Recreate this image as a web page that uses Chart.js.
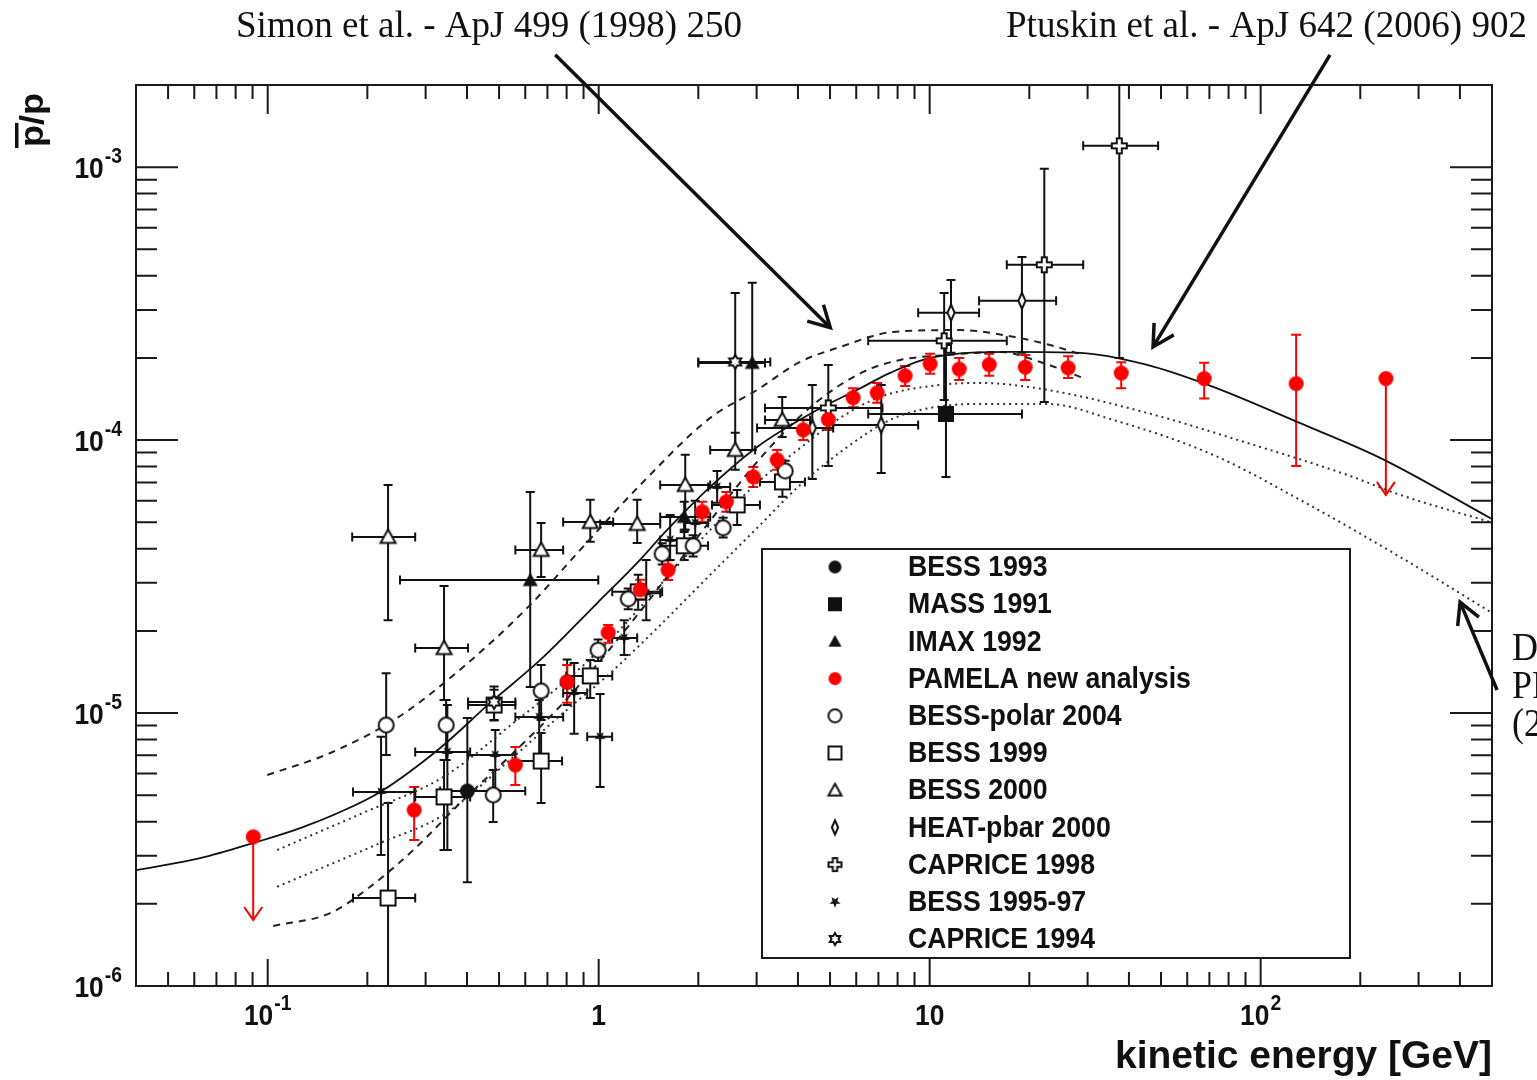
<!DOCTYPE html>
<html>
<head>
<meta charset="utf-8">
<title>pbar/p ratio</title>
<script src="https://cdn.jsdelivr.net/npm/chart.js@4.4.1/dist/chart.umd.min.js"></script>
<style>
  html, body { margin: 0; padding: 0; background: #fff; }
  #wrap { width: 1537px; height: 1080px; }
</style>
</head>
<body>
<div id="wrap"><canvas id="chart" width="1537" height="1080"></canvas></div>
<script>
// ---------- axis ranges and tick labels ----------
const xAxisMin = 0.04, xAxisMax = 500;
const yAxisMin = 1e-6, yAxisMax = 2e-3;
const xTickValues = [0.1, 1, 10, 100];
const xTickLabels = [['10', '-1'], ['1', ''], ['10', ''], ['10', '2']];
const yTickValues = [1e-6, 1e-5, 1e-4, 1e-3];
const yTickLabels = [['10', '-6'], ['10', '-5'], ['10', '-4'], ['10', '-3']];

// ---------- model curves ----------
const ptuskinE = [0.0401, 0.0625, 0.0904, 0.1254, 0.1656, 0.2187, 0.332, 0.470, 0.666, 0.990, 1.307, 1.610, 2.172, 3.012, 4.573, 6.039, 7.598, 10.03, 17.88, 28.5, 45.41, 71.87, 128.9, 229.6, 500];
const ptuskinR = [2.66e-6, 2.94e-6, 3.34e-6, 3.79e-6, 4.34e-6, 5.14e-6, 7.45e-6, 1.089e-5, 1.565e-5, 2.53e-5, 3.55e-5, 4.69e-5, 6.74e-5, 9.44e-5, 1.29e-4, 1.528e-4, 1.763e-4, 2.0e-4, 2.105e-4, 2.087e-4, 1.886e-4, 1.567e-4, 1.166e-4, 8.61e-5, 5.14e-5];

const simonHighE = [0.0997, 0.1545, 0.2461, 0.3897, 0.6209, 0.8793, 1.335, 2.172, 3.012, 4.062, 5.366, 7.757, 12.37, 17.88, 23.12, 29.09];
const simonHighR = [5.93e-6, 7.14e-6, 9.60e-6, 1.475e-5, 2.49e-5, 3.96e-5, 6.85e-5, 1.206e-4, 1.528e-4, 1.934e-4, 2.195e-4, 2.49e-4, 2.53e-4, 2.39e-4, 2.23e-4, 2.05e-4];
const simonLowE = [0.1039, 0.1545, 0.204, 0.2753, 0.3897, 0.5516, 0.7813, 1.106, 1.566, 2.218, 3.141, 4.446, 6.297, 8.145, 11.29, 16.33, 21.57, 29.09];
const simonLowR = [1.66e-6, 1.85e-6, 2.31e-6, 3.15e-6, 4.80e-6, 7.14e-6, 1.089e-5, 1.776e-5, 3.02e-5, 5.23e-5, 8.83e-5, 1.346e-4, 1.778e-4, 1.967e-4, 2.05e-4, 2.105e-4, 1.934e-4, 1.69e-4];

const donatoHighE = [0.1068, 0.1943, 0.339, 0.5671, 0.7813, 1.083, 1.534, 2.172, 3.012, 4.062, 5.366, 7.087, 10.76, 14.21, 22.65, 45.41, 91.0, 182.5, 264, 494];
const donatoHighR = [3.15e-6, 4.31e-6, 5.83e-6, 9.43e-6, 1.289e-5, 1.853e-5, 2.95e-5, 4.69e-5, 6.97e-5, 9.36e-5, 1.206e-4, 1.44e-4, 1.593e-4, 1.62e-4, 1.528e-4, 1.258e-4, 9.77e-5, 7.46e-5, 6.30e-5, 5.01e-5];
const donatoLowE = [0.1068, 0.2187, 0.339, 0.5516, 0.7813, 1.083, 1.534, 2.172, 3.075, 4.062, 5.479, 7.598, 10.03, 14.21, 22.65, 35.85, 71.87, 131.6, 264, 494];
const donatoLowR = [2.31e-6, 3.34e-6, 4.23e-6, 6.90e-6, 1.001e-5, 1.40e-5, 2.10e-5, 3.21e-5, 4.89e-5, 6.85e-5, 9.20e-5, 1.186e-4, 1.312e-4, 1.357e-4, 1.357e-4, 1.186e-4, 8.83e-5, 6.04e-5, 3.73e-5, 2.35e-5];

// ---------- measurements ----------
const bess93E = [0.401, 0.803];
const bess93R = [5.18e-6, 1.30e-5];
const bess93Lo = [2.40e-6, 1.07e-5];
const bess93Hi = [9.6e-6, 1.57e-5];
const bess93ELo = [0.332, null];
const bess93EHi = [0.600, null];

const massE = [11.2];
const massR = [1.247e-4];
const massLo = [7.33e-5];
const massHi = [2.23e-4];
const massELo = [6.52];
const massEHi = [19.0];

const imaxE = [0.621, 1.813, 2.91];
const imaxR = [3.07e-5, 5.23e-5, 1.918e-4];
const imaxLo = [1.246e-5, 4.61e-5, 9.2e-5];
const imaxHi = [6.46e-5, 5.94e-5, 3.77e-4];
const imaxELo = [0.251, 1.534, 2.0];
const imaxEHi = [0.997, 2.172, 3.18];

const pamelaE = [0.277, 0.560, 0.803, 1.068, 1.335, 1.62, 2.055, 2.43, 2.93, 3.46, 4.15, 4.94, 5.87, 6.94, 8.43, 10.03, 12.28, 15.13, 19.44, 26.2, 37.9, 67.5, 128];
const pamelaR = [4.41e-6, 6.45e-6, 1.30e-5, 1.97e-5, 2.83e-5, 3.34e-5, 5.46e-5, 5.94e-5, 7.33e-5, 8.46e-5, 1.09e-4, 1.19e-4, 1.43e-4, 1.49e-4, 1.72e-4, 1.90e-4, 1.82e-4, 1.89e-4, 1.85e-4, 1.84e-4, 1.76e-4, 1.68e-4, 1.61e-4];
const pamelaLo = [3.43e-6, 5.45e-6, 1.09e-5, 1.81e-5, 2.60e-5, 3.07e-5, 5.02e-5, 5.46e-5, 6.74e-5, 7.78e-5, 1.00e-4, 1.09e-4, 1.32e-4, 1.37e-4, 1.58e-4, 1.75e-4, 1.66e-4, 1.72e-4, 1.66e-4, 1.69e-4, 1.55e-4, 1.42e-4, 8.04e-5];
const pamelaHi = [5.36e-6, 7.51e-6, 1.50e-5, 2.10e-5, 3.08e-5, 3.63e-5, 5.94e-5, 6.46e-5, 7.97e-5, 9.20e-5, 1.19e-4, 1.29e-4, 1.55e-4, 1.62e-4, 1.87e-4, 2.07e-4, 2.00e-4, 2.07e-4, 2.05e-4, 2.03e-4, 1.93e-4, 1.92e-4, 2.43e-4];
const pamelaLimitE = [0.0904, 239];
const pamelaLimitR = [3.52e-6, 1.68e-4];
const pamelaLimitTo = [1.745e-6, 6.3e-5];

const polarE = [0.228, 0.346, 0.480, 0.670, 0.996, 1.228, 1.555, 1.929, 2.377, 3.66];
const polarR = [9.04e-6, 9.04e-6, 5.01e-6, 1.205e-5, 1.70e-5, 2.62e-5, 3.83e-5, 4.10e-5, 4.77e-5, 7.71e-5];
const polarLo = [7.02e-6, 6.73e-6, 3.99e-6, 9.43e-6, 1.55e-5, 2.40e-5, 3.50e-5, 3.75e-5, 4.40e-5, 7.1e-5];
const polarHi = [1.40e-5, 1.117e-5, 6.19e-6, 1.50e-5, 1.86e-5, 2.86e-5, 4.19e-5, 4.48e-5, 5.2e-5, 8.4e-5];

const bess99E = [0.231, 0.341, 0.483, 0.670, 0.943, 1.316, 1.813, 2.62, 3.59];
const bess99R = [2.10e-6, 4.93e-6, 1.07e-5, 6.67e-6, 1.368e-5, 2.78e-5, 4.10e-5, 5.79e-5, 7.03e-5];
const bess99Lo = [5e-7, 3.15e-6, 9.43e-6, 4.68e-6, 1.136e-5, 2.39e-5, 3.64e-5, 4.89e-5, 6.2e-5];
const bess99Hi = [4.68e-6, 6.73e-6, 1.216e-5, 8.46e-6, 1.565e-5, 3.21e-5, 4.69e-5, 6.57e-5, 7.9e-5];
const bess99ELo = [0.181, 0.279, 0.403, 0.560, 0.798, 1.099, 1.534, 2.2, 3.07];
const bess99EHi = [0.279, 0.409, 0.560, 0.775, 1.099, 1.555, 2.14, 3.07, 4.2];

const bess00E = [0.231, 0.341, 0.670, 0.943, 1.307, 1.826, 2.585, 3.585];
const bess00R = [4.42e-5, 1.73e-5, 3.96e-5, 5.01e-5, 4.93e-5, 6.85e-5, 9.2e-5, 1.186e-4];
const bess00Lo = [2.19e-5, 1.117e-5, 3.15e-5, 4.24e-5, 4.20e-5, 4.69e-5, 7.78e-5, 1.027e-4];
const bess00Hi = [6.85e-5, 2.92e-5, 4.97e-5, 6.04e-5, 6.04e-5, 8.83e-5, 1.063e-4, 1.44e-4];
const bess00ELo = [0.180, 0.279, 0.560, 0.781, 1.01, 1.534, 2.172, 3.18];
const bess00EHi = [0.279, 0.403, 0.781, 1.106, 1.534, 2.172, 2.97, 4.35];

const heatE = [4.42, 7.14, 11.6, 19.0];
const heatR = [1.108e-4, 1.137e-4, 2.93e-4, 3.24e-4];
const heatLo = [7.21e-5, 7.58e-5, 2.09e-4, 2.09e-4];
const heatHi = [1.593e-4, 1.593e-4, 3.86e-4, 4.69e-4];
const heatELo = [3.01, 5.11, 9.23, 14.1];
const heatEHi = [5.11, 9.23, 14.1, 24.1];

const cap98E = [4.94, 11.06, 22.2, 37.4];
const cap98R = [1.312e-4, 2.31e-4, 4.39e-4, 1.197e-3];
const cap98Lo = [8.04e-5, 1.404e-4, 1.38e-4, 2.0e-4];
const cap98Hi = [1.886e-4, 3.46e-4, 9.86e-4, 3.0e-3];
const cap98ELo = [3.18, 6.52, 17.1, 29.1];
const cap98EHi = [7.2, 17.1, 29.1, 49.0];

const bess95E = [0.220, 0.349, 0.487, 0.661, 0.843, 1.010, 1.194, 1.392, 1.644, 1.957, 2.28];
const bess95R = [5.14e-6, 7.20e-6, 7.02e-6, 9.67e-6, 1.185e-5, 8.18e-6, 1.884e-5, 2.75e-5, 4.31e-5, 4.97e-5, 6.74e-5];
const bess95Lo = [3.02e-6, 3.15e-6, 5.23e-6, 6.73e-6, 8.39e-6, 5.36e-6, 1.633e-5, 2.19e-5, 3.64e-5, 4.2e-5, 5.9e-5];
const bess95Hi = [8.18e-6, 1.07e-5, 8.67e-6, 1.117e-5, 1.526e-5, 1.175e-5, 2.19e-5, 3.64e-5, 5.32e-5, 6.0e-5, 7.7e-5];
const bess95ELo = [0.181, 0.279, 0.403, 0.560, 0.781, 0.923, 1.098, 1.307, 1.534, 1.813, 2.142];
const bess95EHi = [0.279, 0.409, 0.560, 0.781, 0.923, 1.098, 1.307, 1.534, 1.813, 2.142, 2.496];

const cap94E = [0.483, 2.585];
const cap94R = [1.098e-5, 1.934e-4];
const cap94Lo = [9.4e-6, 9.2e-5];
const cap94Hi = [1.25e-5, 3.46e-4];
const cap94ELo = [0.403, 2.0];
const cap94EHi = [0.560, 3.3];

// annotation arrows (data coordinates: tail -> tip)
const arrowTails = [[0.739, 2.58e-3], [162, 2.58e-3], [518, 1.215e-5]];
const arrowTips = [[5.01, 2.58e-4], [47.3, 2.195e-4], [400.5, 2.55e-5]];

// ---------- helpers ----------
const sansFont = '"Liberation Sans", Arial, Helvetica, sans-serif';
const serifFont = '"Liberation Serif", "Times New Roman", serif';
const INK = '#111';
const RED = '#ff0000';

function makeMarker(kind, s, color, open) {
  const pad = 3;
  const w = Math.ceil(s + 2 * pad);
  const c = document.createElement('canvas');
  c.width = w; c.height = w;
  const g = c.getContext('2d');
  g.translate(w / 2, w / 2);
  const h = open ? s / 2 - 1 : s / 2;
  g.lineWidth = 2;
  g.strokeStyle = color;
  g.fillStyle = color;
  g.beginPath();
  if (kind === 'circle') {
    g.arc(0, 0, h, 0, 2 * Math.PI);
  } else if (kind === 'square') {
    g.rect(-h, -h, 2 * h, 2 * h);
  } else if (kind === 'triangle') {
    g.moveTo(0, -h); g.lineTo(h, h * 0.8); g.lineTo(-h, h * 0.8); g.closePath();
  } else if (kind === 'diamond') {
    g.moveTo(0, -h); g.lineTo(h * 0.45, 0); g.lineTo(0, h); g.lineTo(-h * 0.45, 0); g.closePath();
  } else if (kind === 'cross') {
    const a = h * 0.34;
    g.moveTo(-a, -h); g.lineTo(a, -h); g.lineTo(a, -a); g.lineTo(h, -a); g.lineTo(h, a);
    g.lineTo(a, a); g.lineTo(a, h); g.lineTo(-a, h); g.lineTo(-a, a); g.lineTo(-h, a);
    g.lineTo(-h, -a); g.lineTo(-a, -a); g.closePath();
  } else if (kind === 'star5') {
    for (let i = 0; i < 10; i++) {
      const r = i % 2 ? h * 0.42 : h;
      const a = Math.PI / 2 + i * Math.PI / 5;
      if (i === 0) g.moveTo(r * Math.cos(a), r * Math.sin(a)); else g.lineTo(r * Math.cos(a), r * Math.sin(a));
    }
    g.closePath();
  } else if (kind === 'star6') {
    for (let i = 0; i < 12; i++) {
      const r = i % 2 ? h * 0.58 : h;
      const a = -Math.PI / 2 + i * Math.PI / 6;
      if (i === 0) g.moveTo(r * Math.cos(a), r * Math.sin(a)); else g.lineTo(r * Math.cos(a), r * Math.sin(a));
    }
    g.closePath();
  }
  if (open) { g.fillStyle = '#fff'; g.fill(); g.stroke(); } else { g.fill(); }
  return c;
}

function points(E, R, lo, hi, eLo, eHi) {
  return E.map((e, i) => ({
    x: e, y: R[i],
    yMin: lo ? lo[i] : null, yMax: hi ? hi[i] : null,
    xMin: eLo && eLo[i] != null ? eLo[i] : null,
    xMax: eHi && eHi[i] != null ? eHi[i] : null
  }));
}

function curve(E, R) {
  return E.map((e, i) => ({ x: e, y: R[i] }));
}

function logTicks(min, max) {
  const out = [];
  for (let n = Math.floor(Math.log10(min)); n <= Math.ceil(Math.log10(max)); n++) {
    for (let k = 1; k <= 9; k++) {
      const v = k * Math.pow(10, n);
      if (v >= min * 0.999 && v <= max * 1.001) out.push({ v, major: k === 1 });
    }
  }
  return out;
}

function squeezeText(ctx, text, x, y, size, sx, align, family, weight) {
  ctx.save();
  ctx.font = `${weight} ${size}px ${family}`;
  const w = ctx.measureText(text).width * sx;
  let left = x;
  if (align === 'center') left = x - w / 2;
  else if (align === 'right') left = x - w;
  ctx.translate(left, y);
  ctx.scale(sx, 1);
  ctx.textAlign = 'left';
  ctx.fillText(text, 0, 0);
  ctx.restore();
  return w;
}

function fitText(ctx, text, x, y, size, width, align, family, weight) {
  ctx.font = `${weight} ${size}px ${family}`;
  const natural = ctx.measureText(text).width;
  return squeezeText(ctx, text, x, y, size, width / natural, align, family, weight);
}

function powerLabel(ctx, base, exp, x, y, align) {
  const sx = 0.88;
  ctx.font = `bold 30px ${sansFont}`;
  const wb = ctx.measureText(base).width * sx;
  ctx.font = `bold 22px ${sansFont}`;
  const we = exp ? ctx.measureText(exp).width * sx + 1 : 0;
  const total = wb + we;
  const left = align === 'right' ? x - total : x - total / 2;
  ctx.textBaseline = 'middle';
  squeezeText(ctx, base, left, y, 30, sx, 'left', sansFont, 'bold');
  if (exp) squeezeText(ctx, exp, left + wb + 1, y - 13, 22, sx, 'left', sansFont, 'bold');
}

function drawArrow(ctx, x1, y1, x2, y2) {
  const ang = Math.atan2(y2 - y1, x2 - x1);
  const L = 24, spread = 0.5;
  ctx.beginPath();
  ctx.moveTo(x1, y1); ctx.lineTo(x2, y2);
  ctx.moveTo(x2 - L * Math.cos(ang - spread), y2 - L * Math.sin(ang - spread));
  ctx.lineTo(x2, y2);
  ctx.lineTo(x2 - L * Math.cos(ang + spread), y2 - L * Math.sin(ang + spread));
  ctx.stroke();
}

// ---------- datasets ----------
const modelLine = (label, E, R, dash, color, width) => ({
  label, data: curve(E, R), showLine: true, pointRadius: 0, borderColor: color,
  borderWidth: width, borderDash: dash, fill: false, cubicInterpolationMode: 'monotone',
  order: 50, model: true
});

const series = (label, data, marker, legendMarker, order, errColor) => ({
  label, data, pointStyle: marker, pointRadius: 5, showLine: false,
  legendMarker, errColor: errColor || INK, order
});

const pamelaData = points(pamelaE, pamelaR, pamelaLo, pamelaHi)
  .concat(pamelaLimitE.map((e, i) => ({ x: e, y: pamelaLimitR[i], limit: pamelaLimitTo[i] })));

const datasets = [
  series('BESS 1993', points(bess93E, bess93R, bess93Lo, bess93Hi, bess93ELo, bess93EHi),
    makeMarker('circle', 15, INK, false), makeMarker('circle', 13, INK, false), 6),
  series('MASS 1991', points(massE, massR, massLo, massHi, massELo, massEHi),
    makeMarker('square', 16, INK, false), makeMarker('square', 14, INK, false), 5),
  series('IMAX 1992', points(imaxE, imaxR, imaxLo, imaxHi, imaxELo, imaxEHi),
    makeMarker('triangle', 15, INK, false), makeMarker('triangle', 13, INK, false), 5),
  series('PAMELA new analysis', pamelaData,
    makeMarker('circle', 15, RED, false), makeMarker('circle', 13, RED, false), 0, RED),
  series('BESS-polar 2004', points(polarE, polarR, polarLo, polarHi),
    makeMarker('circle', 17, INK, true), makeMarker('circle', 15, INK, true), 8),
  series('BESS 1999', points(bess99E, bess99R, bess99Lo, bess99Hi, bess99ELo, bess99EHi),
    makeMarker('square', 17, INK, true), makeMarker('square', 15, INK, true), 9),
  series('BESS 2000', points(bess00E, bess00R, bess00Lo, bess00Hi, bess00ELo, bess00EHi),
    makeMarker('triangle', 17, INK, true), makeMarker('triangle', 15, INK, true), 9),
  series('HEAT-pbar 2000', points(heatE, heatR, heatLo, heatHi, heatELo, heatEHi),
    makeMarker('diamond', 18, INK, true), makeMarker('diamond', 16, INK, true), 7),
  series('CAPRICE 1998', points(cap98E, cap98R, cap98Lo, cap98Hi, cap98ELo, cap98EHi),
    makeMarker('cross', 17, INK, true), makeMarker('cross', 15, INK, true), 7),
  series('BESS 1995-97', points(bess95E, bess95R, bess95Lo, bess95Hi, bess95ELo, bess95EHi),
    makeMarker('star5', 12, INK, false), makeMarker('star5', 12, INK, false), 4),
  series('CAPRICE 1994', points(cap94E, cap94R, cap94Lo, cap94Hi, cap94ELo, cap94EHi),
    makeMarker('star6', 16, INK, true), makeMarker('star6', 14, INK, true), 7),
  modelLine('Ptuskin et al. 2006', ptuskinE, ptuskinR, [], INK, 1.8),
  modelLine('Simon et al. 1998 (max)', simonHighE, simonHighR, [7, 6], '#222', 2),
  modelLine('Simon et al. 1998 (min)', simonLowE, simonLowR, [7, 6], '#222', 2),
  modelLine('Donato et al. (max)', donatoHighE, donatoHighR, [2, 4], '#333', 2),
  modelLine('Donato et al. (min)', donatoLowE, donatoLowR, [2, 4], '#333', 2)
];

// ---------- ROOT-style frame, error bars, legend, labels ----------
const rootStyle = {
  id: 'rootStyle',
  beforeDraw(chart) {
    const ctx = chart.ctx;
    ctx.save();
    ctx.fillStyle = '#fff';
    ctx.fillRect(0, 0, chart.width, chart.height);
    ctx.restore();
  },
  beforeDatasetsDraw(chart) {
    const { ctx, chartArea: a, scales: { x, y } } = chart;
    ctx.save();
    ctx.beginPath();
    ctx.rect(a.left, a.top, a.right - a.left, a.bottom - a.top);
    ctx.clip();
    chart.data.datasets.forEach(ds => {
      if (ds.model) return;
      ctx.strokeStyle = ds.errColor;
      ctx.lineWidth = 2;
      const cap = ds.errColor === RED ? 5 : 4.5;
      ds.data.forEach(p => {
        const px = x.getPixelForValue(p.x), py = y.getPixelForValue(p.y);
        ctx.beginPath();
        if (p.limit) {
          const pe = y.getPixelForValue(p.limit);
          ctx.moveTo(px, py); ctx.lineTo(px, pe);
          ctx.moveTo(px - 9, pe - 13); ctx.lineTo(px, pe); ctx.lineTo(px + 9, pe - 13);
        }
        if (p.yMin != null) {
          const y1 = y.getPixelForValue(p.yMin), y2 = y.getPixelForValue(p.yMax);
          ctx.moveTo(px, y1); ctx.lineTo(px, y2);
          ctx.moveTo(px - cap, y1); ctx.lineTo(px + cap, y1);
          ctx.moveTo(px - cap, y2); ctx.lineTo(px + cap, y2);
        }
        if (p.xMin != null) {
          const x1 = x.getPixelForValue(p.xMin), x2 = x.getPixelForValue(p.xMax);
          ctx.moveTo(x1, py); ctx.lineTo(x2, py);
          ctx.moveTo(x1, py - cap); ctx.lineTo(x1, py + cap);
          ctx.moveTo(x2, py - cap); ctx.lineTo(x2, py + cap);
        }
        ctx.stroke();
      });
    });
    ctx.restore();
  },
  afterDatasetsDraw(chart) {
    const { ctx, chartArea: a, scales: { x, y } } = chart;
    ctx.save();
    ctx.fillStyle = INK;
    ctx.strokeStyle = '#1a1a1a';

    // frame and ticks
    ctx.lineWidth = 2;
    ctx.strokeRect(a.left, a.top, a.right - a.left, a.bottom - a.top);
    ctx.beginPath();
    logTicks(xAxisMin, xAxisMax).forEach(t => {
      const px = x.getPixelForValue(t.v);
      ctx.moveTo(px, a.bottom); ctx.lineTo(px, a.bottom - (t.major ? 27 : 14));
      ctx.moveTo(px, a.top); ctx.lineTo(px, a.top + (t.major ? 29 : 14));
    });
    logTicks(yAxisMin, yAxisMax).forEach(t => {
      const py = y.getPixelForValue(t.v);
      const l = t.major ? 42 : 21;
      ctx.moveTo(a.left, py); ctx.lineTo(a.left + l, py);
      ctx.moveTo(a.right, py); ctx.lineTo(a.right - l, py);
    });
    ctx.stroke();

    // tick labels
    xTickValues.forEach((v, i) => powerLabel(ctx, xTickLabels[i][0], xTickLabels[i][1], x.getPixelForValue(v), a.bottom + 31, 'center'));
    yTickValues.forEach((v, i) => powerLabel(ctx, yTickLabels[i][0], yTickLabels[i][1], a.left - 14, y.getPixelForValue(v) + 3, 'right'));

    // axis titles
    ctx.textBaseline = 'alphabetic';
    fitText(ctx, 'kinetic energy [GeV]', a.right, a.bottom + 82, 38, 377, 'right', sansFont, 'bold');
    ctx.save();
    ctx.translate(43, 147);
    ctx.rotate(-Math.PI / 2);
    ctx.font = `bold 34px ${sansFont}`;
    const s = 54 / ctx.measureText('p/p').width;
    ctx.scale(s, 1);
    ctx.fillText('p/p', 0, 0);
    const pw = ctx.measureText('p').width;
    ctx.fillRect(-1, -28, pw + 3, 3.5);
    ctx.restore();

    // legend
    const lx = 762, ly = 549, lw = 588, lh = 409;
    ctx.fillStyle = '#fff';
    ctx.fillRect(lx, ly, lw, lh);
    ctx.lineWidth = 2;
    ctx.strokeRect(lx, ly, lw, lh);
    ctx.fillStyle = INK;
    ctx.textBaseline = 'middle';
    const rows = chart.data.datasets.filter(ds => ds.legendMarker);
    rows.forEach((ds, i) => {
      const ry = ly + 18 + i * 37.2;
      const m = ds.legendMarker;
      ctx.drawImage(m, lx + 73 - m.width / 2, ry - m.height / 2);
      squeezeText(ctx, ds.label, lx + 146, ry + 1, 30, 0.89, 'left', sansFont, 'bold');
    });

    // annotations
    ctx.textBaseline = 'alphabetic';
    fitText(ctx, 'Simon et al. - ApJ 499 (1998) 250', 236, 37, 38, 506, 'left', serifFont, 'normal');
    fitText(ctx, 'Ptuskin et al. - ApJ 642 (2006) 902', 1006, 37, 38, 521, 'left', serifFont, 'normal');
    ['Donato et al. -', 'PRL 102 071301', '(2009)'].forEach((t, i) => {
      squeezeText(ctx, t, 1512, 660 + i * 38, 40, 0.9, 'left', serifFont, 'normal');
    });
    ctx.strokeStyle = INK;
    ctx.lineWidth = 3.5;
    arrowTails.forEach((tail, i) => {
      const tip = arrowTips[i];
      drawArrow(ctx, x.getPixelForValue(tail[0]), y.getPixelForValue(tail[1]),
        x.getPixelForValue(tip[0]), y.getPixelForValue(tip[1]));
    });
    ctx.restore();
  }
};

new Chart(document.getElementById('chart'), {
  type: 'scatter',
  data: { datasets },
  options: {
    responsive: false,
    animation: false,
    events: [],
    devicePixelRatio: 1,
    layout: { padding: { left: 136, right: 45, top: 85, bottom: 94 } },
    plugins: { legend: { display: false }, tooltip: { enabled: false } },
    scales: {
      x: { type: 'logarithmic', min: xAxisMin, max: xAxisMax, display: false },
      y: { type: 'logarithmic', min: yAxisMin, max: yAxisMax, display: false }
    }
  },
  plugins: [rootStyle]
});
</script>
</body>
</html>
